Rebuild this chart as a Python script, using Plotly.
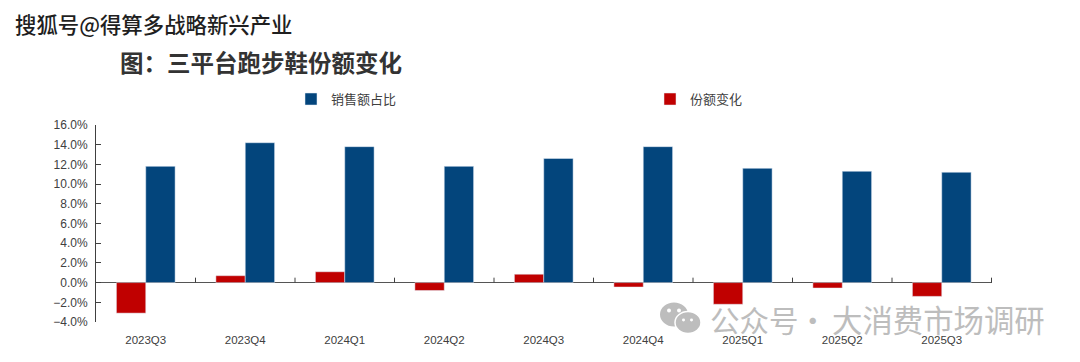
import plotly.graph_objects as go

categories = ["2023Q3", "2023Q4", "2024Q1", "2024Q2", "2024Q3", "2024Q4", "2025Q1", "2025Q2", "2025Q3"]
share_change = [-3.1, 0.7, 1.1, -0.8, 0.85, -0.45, -2.2, -0.55, -1.4]
sales_share = [11.8, 14.2, 13.8, 11.8, 12.6, 13.8, 11.6, 11.3, 11.2]
name_share = "销售额占比"
name_change = "份额变化"
title_text = "图：三平台跑步鞋份额变化"
source_mark = "搜狐号@得算多战略新兴产业"
wechat_left = "公众号"
wechat_dot = "·"
wechat_right = "大消费市场调研"

BLUE = "#03457c"
RED = "#c00000"
TEXT = "#404040"
W, H = 1080, 362
L, R, T, B = 96, 88, 125, 39.5
CJK = "Noto Sans CJK SC"
LATIN = "Liberation Sans"
PW, PH = W - L - R, H - T - B


def px(x):
    return (x - L) / PW


def py(y):
    return (H - B - y) / PH


fig = go.Figure()
fig.add_bar(x=categories, y=share_change, name=name_change, marker_color=RED, legend="legend2")
fig.add_bar(x=categories, y=sales_share, name=name_share, marker_color=BLUE, legend="legend")

shapes = [
    dict(type="line", xref="x", yref="y", x0=i + 0.5, x1=i + 0.5, y0=0, y1=0.5,
         line=dict(color="#404040", width=1))
    for i in range(len(categories))
]
# WeChat glyph in the watermark
GREY = "#bdbdbd"
shapes += [
    dict(type="circle", xref="paper", yref="paper", x0=px(660), x1=px(688), y0=py(327), y1=py(303),
         fillcolor=GREY, line_width=0, layer="above"),
    dict(type="circle", xref="paper", yref="paper", x0=px(675), x1=px(701), y0=py(334), y1=py(312),
         fillcolor=GREY, line=dict(color="white", width=1.5), layer="above"),
]
for (a, b, c, d) in [(667, 671, 309, 313), (677, 681, 309, 313), (682, 685, 319, 322), (690, 693, 319, 322)]:
    shapes.append(dict(type="circle", xref="paper", yref="paper", x0=px(a), x1=px(b), y0=py(d), y1=py(c),
                       fillcolor="white", line_width=0, layer="above"))


def note(text, x, y, size, color, weight=400, family=CJK):
    return dict(text=text, x=px(x), y=py(y), xref="paper", yref="paper", xanchor="left", yanchor="middle",
                showarrow=False, font=dict(family=family, size=size, color=color, weight=weight))


annotations = [
    note(source_mark, 13, 23, 21.4, "#1f1f1f", 500),
    note(title_text, 118, 61.5, 23.5, "#333333", 700),
    note(wechat_left, 708, 319, 29.5, GREY),
    note(wechat_dot, 796, 319, 29.5, GREY),
    note(wechat_right, 830, 319, 30.4, GREY),
]

legend_font = dict(family=CJK, size=13, color=TEXT)
fig.update_layout(
    width=W, height=H, autosize=False,
    margin=dict(l=L, r=R, t=T, b=B, pad=0),
    paper_bgcolor="white", plot_bgcolor="white",
    barmode="group", bargap=0.41, bargroupgap=0,
    font=dict(family=LATIN, size=12, color=TEXT),
    showlegend=True,
    legend=dict(x=px(291), y=py(99), xanchor="left", yanchor="middle", font=legend_font, bgcolor="rgba(0,0,0,0)"),
    legend2=dict(x=px(650), y=py(99), xanchor="left", yanchor="middle", font=legend_font, bgcolor="rgba(0,0,0,0)"),
    xaxis=dict(type="category", categoryorder="array", categoryarray=categories, showline=False, showgrid=False,
               ticks="", ticklabelstandoff=9, tickfont=dict(family=LATIN, size=11.5, color=TEXT), zeroline=False),
    yaxis=dict(range=[-4, 16], dtick=2, tick0=-4, tickformat=".1f", ticksuffix="%", showgrid=False,
               showline=True, linecolor="#404040", linewidth=1, ticks="inside", ticklen=5, tickcolor="#404040",
               ticklabelstandoff=5,
               zeroline=True, zerolinecolor="#555555", zerolinewidth=1.2, tickfont=dict(family=LATIN, size=12, color=TEXT)),
    shapes=shapes, annotations=annotations,
)
fig.write_html("out.html", config={"displayModeBar": False}, post_script="document.body.style.margin='0';")
